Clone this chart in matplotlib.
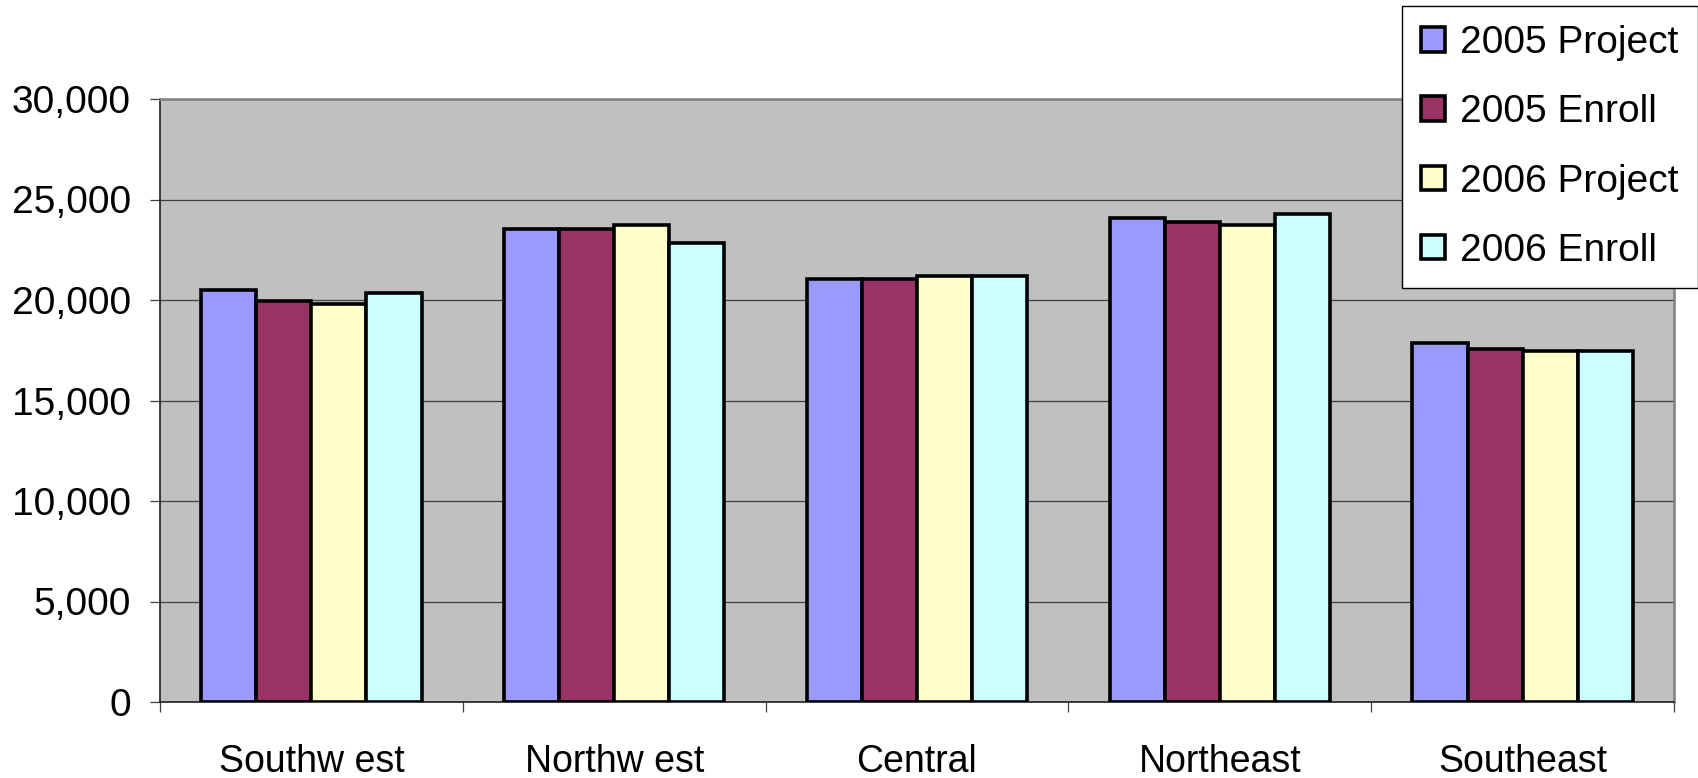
import numpy as np
import matplotlib
matplotlib.use('Agg')
import matplotlib.pyplot as plt
from matplotlib.ticker import FuncFormatter, FixedLocator

plt.rcParams['font.family'] = ['Liberation Sans', 'DejaVu Sans']

regions = ['Southw est', 'Northw est', 'Central', 'Northeast', 'Southeast']
series_names = ['2005 Project', '2005 Enroll', '2006 Project', '2006 Enroll']
proj_2005 = [20500, 23550, 21050, 24100, 17850]
enroll_2005 = [19950, 23550, 21050, 23900, 17550]
proj_2006 = [19800, 23750, 21200, 23750, 17450]
enroll_2006 = [20350, 22850, 21200, 24300, 17450]
colors = ['#9999FF', '#993366', '#FFFFCC', '#CCFFFF']

series = [proj_2005, enroll_2005, proj_2006, enroll_2006]

fig = plt.figure(figsize=(16.98, 7.78), dpi=100)
ax = fig.add_axes([160/1698, 1-702/778, (1674-160)/1698, (702-99)/778])
ax.set_facecolor('#C0C0C0')

x = np.arange(len(regions))
w = 1/5.5
for i, (vals, name, c) in enumerate(zip(series, series_names, colors)):
    ax.bar(x + (i - 1.5)*w, vals, width=w, color=c, edgecolor='black',
           linewidth=2.6, label=name, zorder=3)

ax.set_xlim(-0.5, len(regions) - 0.5)
ax.set_ylim(0, 30000)
ax.set_yticks(np.arange(0, 30001, 5000))
ax.yaxis.set_major_formatter(FuncFormatter(lambda v, p: f'{int(v):,}'))
ax.grid(axis='y', color='#404040', linewidth=0.9, zorder=1)
ax.set_axisbelow(True)

ax.set_xticks(x)
ax.set_xticklabels(regions)
ax.xaxis.set_minor_locator(FixedLocator(np.arange(-0.5, len(regions), 1)))
ax.tick_params(axis='x', which='major', length=0, pad=30, labelsize=27)
ax.tick_params(axis='x', which='minor', length=7, width=0.9, color='#404040')
ax.tick_params(axis='y', length=7, width=0.9, color='#404040', pad=14, labelsize=28)

for s in ['top', 'right']:
    ax.spines[s].set_color('#808080')
    ax.spines[s].set_linewidth(1.8)
ax.spines['left'].set_color('#202020')
ax.spines['bottom'].set_color('#202020')
ax.spines['left'].set_linewidth(1.2)
ax.spines['bottom'].set_linewidth(1.2)

leg = fig.legend(loc='upper left', bbox_to_anchor=(1402/1698, 1-6/778),
                 fontsize=28, frameon=True, fancybox=False, framealpha=1,
                 edgecolor='black', handlelength=0.6, handleheight=0.6,
                 handletextpad=0.4, labelspacing=0.85, borderpad=0.5,
                 borderaxespad=0)
leg.get_frame().set_linewidth(1.0)

fig.savefig('out.png', dpi=100, facecolor='w')
